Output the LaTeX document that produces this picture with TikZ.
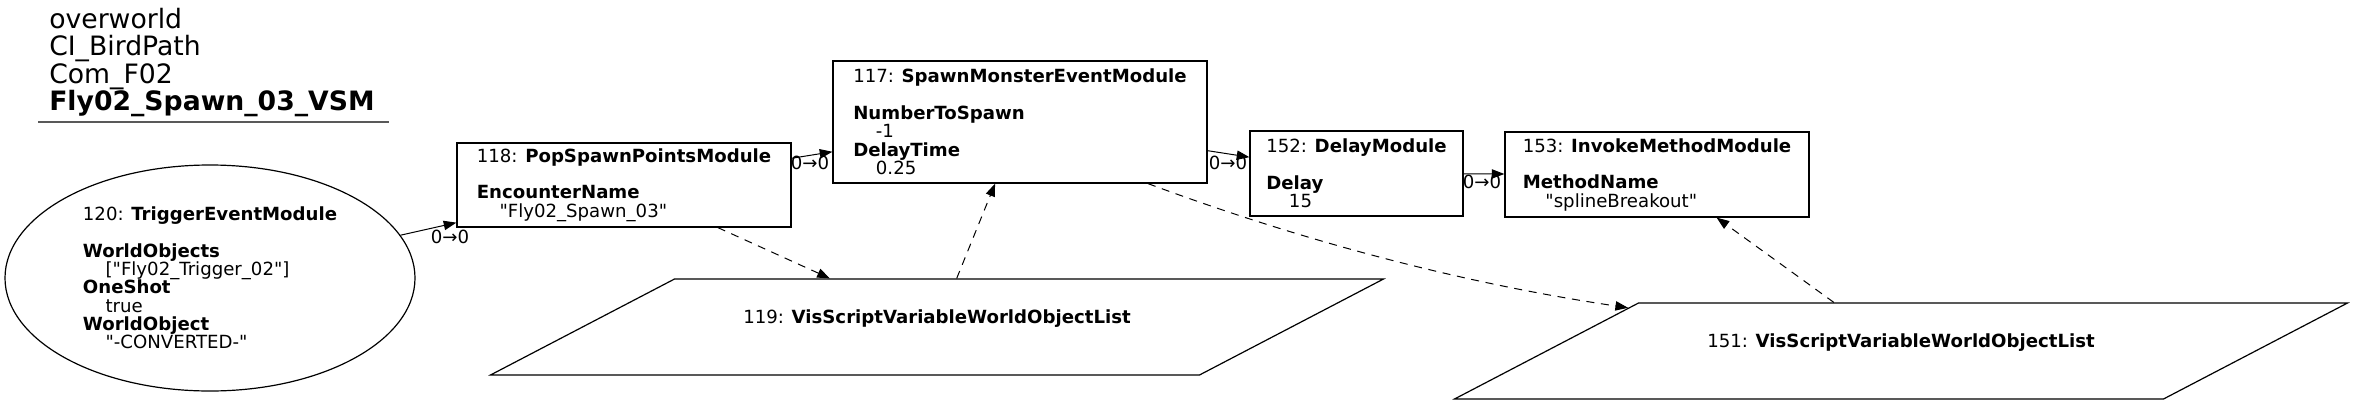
\documentclass[tikz,border=0pt]{standalone}
\usepackage{fontspec}
\setmainfont{DejaVu Sans}[Ligatures=TeXOff]
\usetikzlibrary{arrows.meta,shapes.geometric}
\newcommand{\vsmval}[1]{\hspace*{17pt}#1}
\tikzset{
  vsm/box/.style={
    draw=black,
    line width=0.9pt,
    fill=white,
    align=left,
    inner sep=0pt,
    font=\fontsize{13.6pt}{13.75pt}\selectfont
  },
  vsm/event/.style={
    ellipse,
    draw=black,
    line width=0.9pt,
    align=left,
    inner sep=0pt,
    minimum width=307.5pt,
    minimum height=169.5pt,
    font=\fontsize{13.6pt}{13.75pt}\selectfont
  },
  vsm/var/.style={
    trapezium,
    trapezium left angle=27.55,
    trapezium right angle=152.45,
    trapezium stretches body=true,
    draw=black,
    line width=0.9pt,
    inner xsep=0pt,
    inner ysep=21pt,
    text height=12pt,
    text depth=18pt,
    minimum width=669.75pt,
    minimum height=72pt,
    font=\fontsize{13.6pt}{13.75pt}\selectfont
  },
  vsm/arrow/.style={-{Triangle[length=9.5pt,width=7pt]}, line width=0.75pt, draw=black},
  vsm/dasharrow/.style={vsm/arrow, dash pattern=on 6pt off 5pt},
  vsm/port/.style={font=\fontsize{13.6pt}{13.75pt}\selectfont, inner sep=0pt},
  vsm/title/.style={font=\fontsize{20pt}{20.5pt}\selectfont, align=left, inner sep=0pt, anchor=north west}
}
\begin{document}
\begin{tikzpicture}[x=0.75pt,y=0.75pt]
  \useasboundingbox (0,0) rectangle (2355,405);
  % title block
  \node[vsm/title] (title) at (49,397) {overworld\\CI\_BirdPath\\Com\_F02\\\textbf{Fly02\_Spawn\_03\_VSM}};
  \draw[line width=1.5pt, draw=black!65] (38,283) -- (389,283);
  % modules
  \node[vsm/event] (n120) at (210,127) {120: \textbf{TriggerEventModule}\\\mbox{}\\\textbf{WorldObjects}\\\vsmval{["Fly02\_Trigger\_02"]}\\\textbf{OneShot}\\\vsmval{true}\\\textbf{WorldObject}\\\vsmval{"-CONVERTED-"}};
  \node[vsm/box,minimum width=250.5pt,minimum height=63pt] (n118) at (624,220) {118: \textbf{PopSpawnPointsModule}\\\mbox{}\\\textbf{EncounterName}\\\vsmval{"Fly02\_Spawn\_03"}};
  \node[vsm/box,minimum width=280.5pt,minimum height=91.5pt] (n117) at (1020,283) {117: \textbf{SpawnMonsterEventModule}\\\mbox{}\\\textbf{NumberToSpawn}\\\vsmval{-1}\\\textbf{DelayTime}\\\vsmval{0.25}};
  \node[vsm/box,minimum width=159.75pt,minimum height=63.75pt] (n152) at (1356.5,231.5) {152: \textbf{DelayModule}\\\mbox{}\\\textbf{Delay}\\\vsmval{15}};
  \node[vsm/box,minimum width=228pt,minimum height=63.75pt] (n153) at (1657,230.5) {153: \textbf{InvokeMethodModule}\\\mbox{}\\\textbf{MethodName}\\\vsmval{"splineBreakout"}};
  % variables
  \node[vsm/var] (n119) at (937,78) {119: \textbf{VisScriptVariableWorldObjectList}};
  \node[vsm/var] (n151) at (1901,54) {151: \textbf{VisScriptVariableWorldObjectList}};
  % flow
  \draw[vsm/arrow] (n120) -- (n118);
  \draw[vsm/arrow] (n118) -- (n117);
  \draw[vsm/arrow] (n117) -- (n152);
  \draw[vsm/arrow] (n152) -- (n153);
  \node[vsm/port] (p1) at (450,168) {0→0};
  \node[vsm/port] (p2) at (810,242) {0→0};
  \node[vsm/port] (p3) at (1228,242) {0→0};
  \node[vsm/port] (p4) at (1482,223) {0→0};
  % variable links
  \draw[vsm/dasharrow] (n118) -- (n119);
  \draw[vsm/dasharrow] (n119) -- (n117);
  \draw[vsm/dasharrow] ([xshift=96pt]n117.south) .. controls (1308,162) and (1467,121) .. (n151.171.5);
  \draw[vsm/dasharrow] (n151) -- (n153);
\end{tikzpicture}
\end{document}
